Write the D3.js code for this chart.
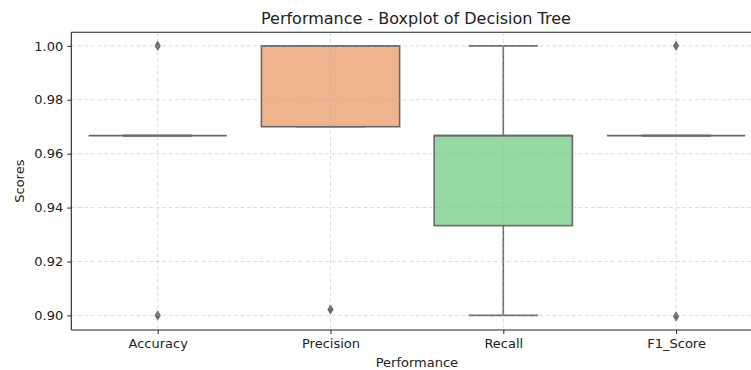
<!DOCTYPE html>
<html>
<head>
<meta charset="utf-8">
<script src="https://cdn.jsdelivr.net/npm/d3@7"></script>
<style>
  html, body { margin: 0; padding: 0; background: #fff; }
  svg { display: block; font-family: "DejaVu Sans", sans-serif; }
</style>
</head>
<body>
<svg id="chart" width="751" height="370"></svg>
<script>
// Per-fold scores of the decision tree for each metric
const categories = ["Accuracy", "Precision", "Recall", "F1_Score"];
const accuracyScores  = [1.0, 0.9667, 0.9667, 0.9667, 0.9];
const precisionScores = [1.0, 1.0, 1.0, 0.97, 0.9022];
const recallScores    = [1.0, 0.9667, 0.9667, 0.9333, 0.9];
const f1Scores        = [1.0, 0.9667, 0.9667, 0.9667, 0.8996];
const seriesScores = [accuracyScores, precisionScores, recallScores, f1Scores];
const boxColors = ["#9fc2e6", "#efb48e", "#95d9a5", "#eea19d"];
const yTicks = [0.90, 0.92, 0.94, 0.96, 0.98, 1.00];

const svg = d3.select("#chart");
const plot = { left: 71.3, top: 32.3, bottom: 330, right: 762.5 };

const x = d3.scaleLinear().domain([-0.5, categories.length - 0.5]).range([plot.left, plot.right]);
const allScores = seriesScores.flat();
const lo = d3.min(allScores), hi = d3.max(allScores), pad = (hi - lo) * 0.05;
const y = d3.scaleLinear().domain([lo - pad, hi + pad]).range([plot.bottom, plot.top]);

const step = x(1) - x(0);
const boxW = step * 0.8;
const lineColor = "#686868";

// Box statistics (Tukey 1.5 IQR whiskers)
const stats = seriesScores.map((vals, i) => {
  const s = vals.slice().sort(d3.ascending);
  const q1 = d3.quantile(s, 0.25), med = d3.quantile(s, 0.5), q3 = d3.quantile(s, 0.75);
  const iqr = q3 - q1;
  const inside = s.filter(v => v >= q1 - 1.5 * iqr && v <= q3 + 1.5 * iqr);
  return {
    cat: categories[i], color: boxColors[i], q1, med, q3,
    wLo: d3.min(inside), wHi: d3.max(inside),
    out: s.filter(v => v < q1 - 1.5 * iqr || v > q3 + 1.5 * iqr)
  };
});

// Boxes
const boxes = svg.append("g");
stats.forEach((d, i) => {
  const cx = x(i);
  const g = boxes.append("g").attr("stroke", lineColor).attr("stroke-width", 1.6);
  // whiskers
  g.append("line").attr("x1", cx).attr("x2", cx).attr("y1", y(d.q3)).attr("y2", y(d.wHi));
  g.append("line").attr("x1", cx).attr("x2", cx).attr("y1", y(d.q1)).attr("y2", y(d.wLo));
  // caps
  g.append("line").attr("x1", cx - boxW / 4).attr("x2", cx + boxW / 4).attr("y1", y(d.wHi)).attr("y2", y(d.wHi));
  g.append("line").attr("x1", cx - boxW / 4).attr("x2", cx + boxW / 4).attr("y1", y(d.wLo)).attr("y2", y(d.wLo));
  // box
  g.append("rect").attr("x", cx - boxW / 2).attr("width", boxW)
    .attr("y", y(d.q3)).attr("height", Math.max(0, y(d.q1) - y(d.q3)))
    .attr("fill", d.color);
  // median
  g.append("line").attr("x1", cx - boxW / 2).attr("x2", cx + boxW / 2).attr("y1", y(d.med)).attr("y2", y(d.med));
  // outliers (thin diamonds)
  d.out.forEach(v => {
    const py = y(v), hw = 2.7, hh = 4.6;
    g.append("path")
      .attr("d", `M${cx},${py - hh}L${cx + hw},${py}L${cx},${py + hh}L${cx - hw},${py}Z`)
      .attr("fill", lineColor).attr("stroke", lineColor).attr("stroke-width", 0.8);
  });
});

// Grid, drawn over the boxes
const grid = svg.append("g").attr("stroke", "rgba(170,170,170,0.45)").attr("stroke-width", 0.9).attr("stroke-dasharray", "4,2.5");
yTicks.forEach(t => grid.append("line")
  .attr("x1", plot.left).attr("x2", 751).attr("y1", y(t)).attr("y2", y(t)));
categories.forEach((c, i) => grid.append("line")
  .attr("x1", x(i)).attr("x2", x(i)).attr("y1", plot.top).attr("y2", plot.bottom));

// Spines
const spines = svg.append("g").attr("stroke", "#222").attr("stroke-width", 1.1);
spines.append("line").attr("x1", plot.left).attr("x2", plot.left).attr("y1", plot.top).attr("y2", plot.bottom);
spines.append("line").attr("x1", plot.left).attr("x2", 751).attr("y1", plot.bottom).attr("y2", plot.bottom);
spines.append("line").attr("x1", plot.left).attr("x2", 751).attr("y1", plot.top).attr("y2", plot.top);

// Axes
const yAxis = d3.axisLeft(y).tickValues(yTicks).tickFormat(d3.format(".2f")).tickSize(4).tickPadding(4);
const xAxis = d3.axisBottom(x).tickValues(d3.range(categories.length)).tickFormat(i => categories[i]).tickSize(4).tickPadding(5);

const gy = svg.append("g").attr("transform", `translate(${plot.left},0)`).call(yAxis);
const gx = svg.append("g").attr("transform", `translate(0,${plot.bottom})`).call(xAxis);
[gx, gy].forEach(g => {
  g.select(".domain").remove();
  g.selectAll(".tick line").attr("stroke", "#222").attr("stroke-width", 1);
  g.selectAll(".tick text").attr("fill", "#222").attr("font-size", 13).attr("font-family", "DejaVu Sans");
});

// Labels
svg.append("text").attr("x", (plot.left + plot.right) / 2 - 1).attr("y", 24)
  .attr("text-anchor", "middle").attr("font-size", 16).attr("fill", "#222")
  .text("Performance - Boxplot of Decision Tree");
svg.append("text").attr("x", (plot.left + plot.right) / 2).attr("y", 367)
  .attr("text-anchor", "middle").attr("font-size", 13).attr("fill", "#222")
  .text("Performance");
svg.append("text").attr("transform", `translate(23.5,${(plot.top + plot.bottom) / 2}) rotate(-90)`)
  .attr("text-anchor", "middle").attr("font-size", 13).attr("fill", "#222")
  .text("Scores");
</script>
</body>
</html>
